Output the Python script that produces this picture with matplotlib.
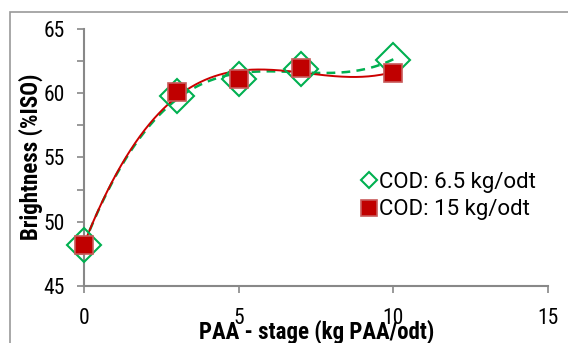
import numpy as np
import matplotlib
matplotlib.use("Agg")
import matplotlib.pyplot as plt
from matplotlib.lines import Line2D
from matplotlib.patches import Rectangle

# PAA charge (kg PAA/odt) and brightness (%ISO) for the two COD levels
paa_dose = [0, 3, 5, 7, 10]
bright_cod_6_5 = [48.2, 59.8, 61.1, 61.9, 62.6]
bright_cod_15 = [48.2, 60.1, 61.1, 62.0, 61.6]

x_ticks = [0, 5, 10, 15]
y_ticks = [45, 50, 55, 60, 65]

narrow = "Roboto Condensed"
green = "#00B050"
red = "#C00000"

fig = plt.figure(figsize=(5.68, 3.43), dpi=100)
ax = fig.add_axes([84 / 568, 1 - 286 / 343, 464 / 568, 257 / 343])

# excel style polynomial trendlines (order 3)
xs = np.linspace(0, 10, 200)
fit_g = np.polyfit(paa_dose, bright_cod_6_5, 3)
fit_r = np.polyfit(paa_dose, bright_cod_15, 3)
ax.plot(xs, np.polyval(fit_g, xs), color=green, lw=1.8, ls=(0, (3.5, 2.5)), zorder=2)
ax.plot(xs, np.polyval(fit_r, xs), color="#CC0000", lw=1.4, zorder=3)

ax.plot(paa_dose, bright_cod_6_5, ls="none", marker="D", ms=17, mfc="none",
        mec=green, mew=1.5, zorder=4, clip_on=False)
ax.plot(paa_dose, bright_cod_15, ls="none", marker="s", ms=13, mfc=red,
        mec="#C85A5A", mew=1.2, zorder=5, clip_on=False)

ax.set_xlim(0, 15)
ax.set_ylim(45, 65)
ax.set_xticks(x_ticks)
ax.set_yticks(y_ticks)
ax.set_yticks(np.arange(45, 65.1, 2.5), minor=True)
ax.set_xticklabels([str(t) for t in x_ticks], fontfamily=narrow, fontsize=15.5)
ax.set_yticklabels([str(t) for t in y_ticks], fontfamily=narrow, fontsize=15.5)
ax.tick_params(axis="both", which="both", direction="out", length=5, width=1.2, color="#888888")
ax.tick_params(axis="x", pad=11)
ax.tick_params(axis="y", pad=9)
for s in ["top", "right"]:
    ax.spines[s].set_visible(False)
for s in ["left", "bottom"]:
    ax.spines[s].set_color("#888888")
    ax.spines[s].set_linewidth(1.5)

fig.text(317 / 568, 1 - 332 / 343, "PAA - stage (kg PAA/odt)", ha="center", va="center",
         fontfamily=narrow, fontweight="bold", fontsize=16.5)
fig.text(31 / 568, 1 - 157 / 343, "Brightness (%ISO)", ha="center", va="center",
         rotation=90, fontfamily=narrow, fontweight="bold", fontsize=16.5)

handles = [
    Line2D([], [], ls="none", marker="D", ms=8, mfc="none", mec=green, mew=1.5),
    Line2D([], [], ls="none", marker="s", ms=12, mfc=red, mec="#C85A5A", mew=1.2),
]
ax.legend(handles, ["COD: 6.5 kg/odt", "COD: 15 kg/odt"], loc="upper left",
          bbox_to_anchor=(350 / 568, 1 - 161 / 343), bbox_transform=fig.transFigure,
          frameon=False, prop={"family": "Roboto", "size": 16},
          handlelength=0.7, handletextpad=0.1, labelspacing=0.28, borderpad=0)

# chart area border (excel style)
fig.patches.append(Rectangle((10 / 568, -0.1), 1.2, 1 - 12 / 343 + 0.1, transform=fig.transFigure,
                             fill=False, edgecolor="#999999", lw=1.2))

fig.savefig("out.png", dpi=100)
